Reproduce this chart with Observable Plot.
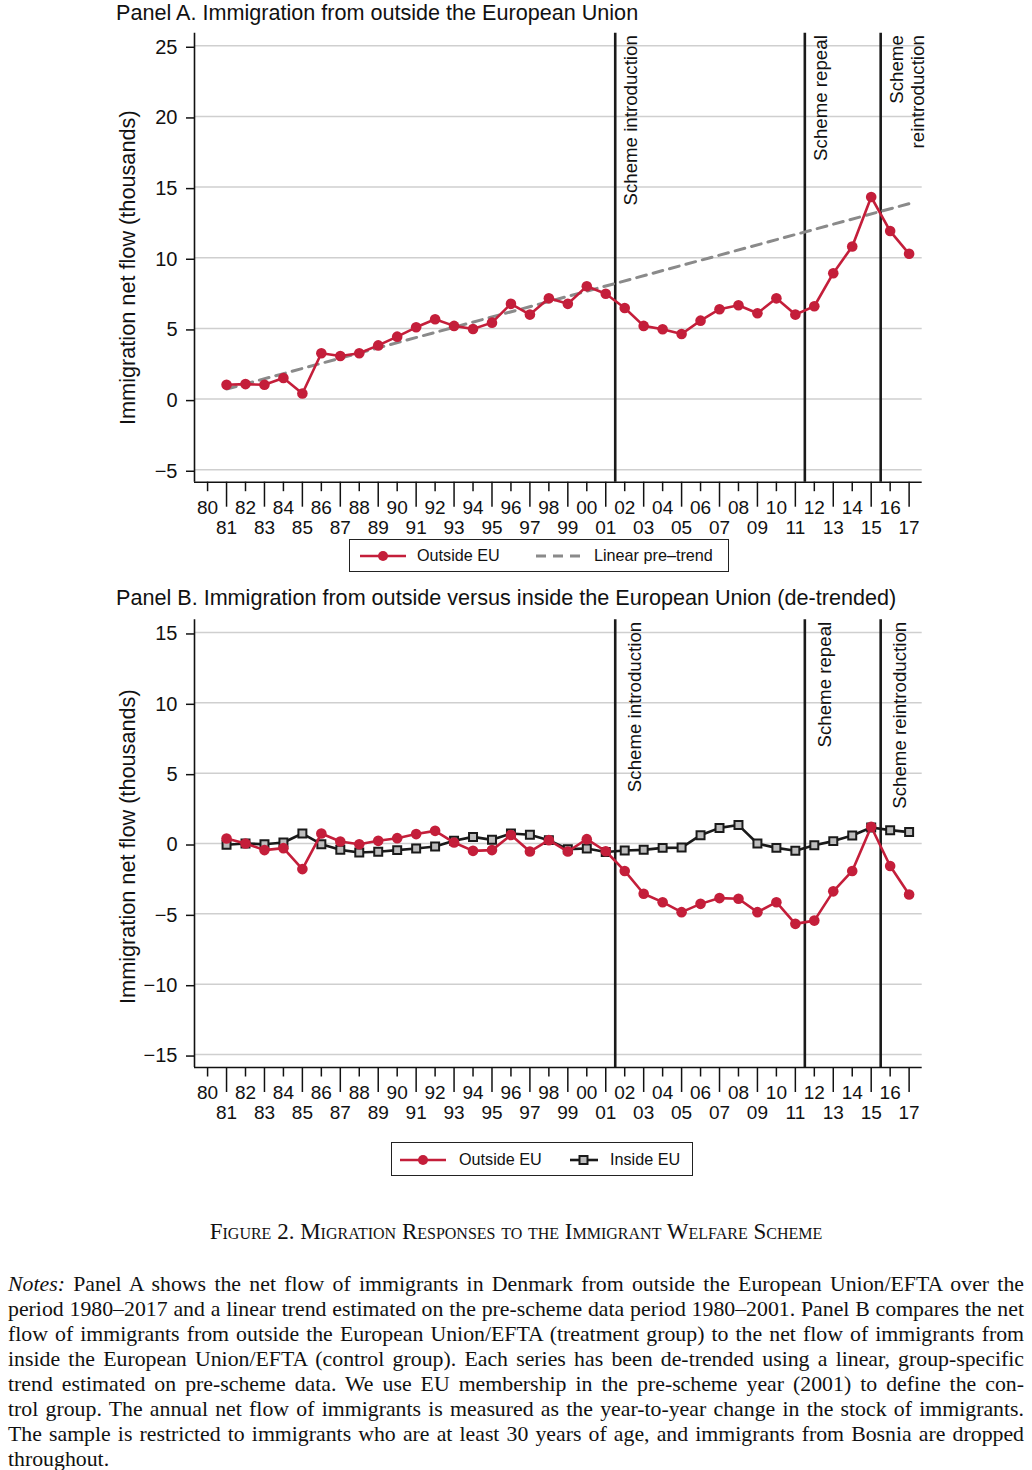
<!DOCTYPE html>
<html>
<head>
<meta charset="utf-8">
<script src="https://cdn.jsdelivr.net/npm/d3@7"></script>
<script src="https://cdn.jsdelivr.net/npm/@observablehq/plot@0.6"></script>
<style>
  body { margin: 0; background: #fff; }
  #page { position: relative; width: 1032px; height: 1470px; overflow: hidden; background: #fff;
          font-family: "Liberation Sans", Arial, Helvetica, sans-serif; color: #111; }
  .abs { position: absolute; }
  .ptitle { left: 116px; font-size: 21.6px; line-height: 24px; white-space: nowrap; }
  .legend { box-sizing: border-box; border: 1.5px solid #222; background: #fff; }
  .legend span { position: absolute; font-size: 16.2px; line-height: 20px; white-space: nowrap; }
  .legend svg { position: absolute; overflow: visible; }
  #caption { left: 0; width: 1032px; top: 1218px; text-align: center; font-family: "Liberation Serif", "Times New Roman", serif;
             font-size: 23px; line-height: 28px; font-variant: small-caps; white-space: nowrap; }
  #notes { left: 8px; width: 1016px; top: 1272px; font-family: "Liberation Serif", "Times New Roman", serif;
           font-size: 20px; line-height: 25px; color: #111; }
  #notes .ln { display: block; text-align: justify; text-align-last: justify; white-space: nowrap; }
  #notes .last { text-align: left; text-align-last: left; }
</style>
</head>
<body>
<div id="page">
  <div class="abs ptitle" style="top:1px">Panel A. Immigration from outside the European Union</div>
  <div class="abs" id="chartA" style="left:0; top:26px;"></div>
  <div class="abs legend" style="left:349px; top:539px; width:380px; height:33px;">
    <svg style="left:10px; top:15px;" width="46" height="2"><line x1="0" y1="1" x2="46" y2="1" stroke="#c41e3a" stroke-width="2.6"/><circle cx="23" cy="1" r="5" fill="#c41e3a"/></svg>
    <span style="left:67px; top:5px;">Outside EU</span>
    <svg style="left:186px; top:15px;" width="46" height="2"><line x1="0" y1="1" x2="46" y2="1" stroke="#8a8a8a" stroke-width="3" stroke-dasharray="10,7"/></svg>
    <span style="left:244px; top:5px;">Linear pre–trend</span>
  </div>

  <div class="abs ptitle" style="top:586px">Panel B. Immigration from outside versus inside the European Union (de-trended)</div>
  <div class="abs" id="chartB" style="left:0; top:611px;"></div>
  <div class="abs legend" style="left:391px; top:1142px; width:302px; height:34px;">
    <svg style="left:8px; top:16px;" width="46" height="2"><line x1="0" y1="1" x2="46" y2="1" stroke="#c41e3a" stroke-width="2.6"/><circle cx="23" cy="1" r="5" fill="#c41e3a"/></svg>
    <span style="left:67px; top:6px;">Outside EU</span>
    <svg style="left:178px; top:16px;" width="28" height="2"><line x1="0" y1="1" x2="28" y2="1" stroke="#1a1a1a" stroke-width="2.6"/><rect x="9.5" y="-3" width="8" height="8" fill="#bdbdbd" stroke="#1a1a1a" stroke-width="2"/></svg>
    <span style="left:218px; top:6px;">Inside EU</span>
  </div>

  <div class="abs" id="caption">Figure 2. Migration Responses to the Immigrant Welfare Scheme</div>
  <div class="abs" id="notes">
    <span class="ln"><i>Notes:</i> Panel A shows the net flow of immigrants in Denmark from outside the European Union/EFTA over the</span>
    <span class="ln">period 1980–2017 and a linear trend estimated on the pre-scheme data period 1980–2001. Panel B compares the net</span>
    <span class="ln">flow of immigrants from outside the European Union/EFTA (treatment group) to the net flow of immigrants from</span>
    <span class="ln">inside the European Union/EFTA (control group). Each series has been de-trended using a linear, group-specific</span>
    <span class="ln">trend estimated on pre-scheme data. We use EU membership in the pre-scheme year (2001) to define the con-</span>
    <span class="ln">trol group. The annual net flow of immigrants is measured as the year-to-year change in the stock of immigrants.</span>
    <span class="ln">The sample is restricted to immigrants who are at least 30 years of age, and immigrants from Bosnia are dropped</span>
    <span class="ln last">throughout.</span>
  </div>
</div>

<script>
// ---------------- DATA ----------------
const years = [1981,1982,1983,1984,1985,1986,1987,1988,1989,1990,1991,1992,1993,1994,1995,1996,1997,1998,1999,2000,
               2001,2002,2003,2004,2005,2006,2007,2008,2009,2010,2011,2012,2013,2014,2015,2016,2017];

// Panel A: net flow from outside EU (thousands)
const outsideA = [1.01,1.06,1.01,1.49,0.40,3.24,3.05,3.24,3.80,4.42,5.08,5.65,5.18,4.96,5.41,6.74,5.98,7.13,6.74,7.99,
                  7.45,6.45,5.18,4.94,4.61,5.55,6.36,6.64,6.07,7.13,5.98,6.57,8.91,10.80,14.30,11.89,10.28];
// Linear pre-trend (end points)
const trendYears = [1981, 2017];
const trendValues = [0.71, 13.83];

// Panel B: de-trended series
const outsideB = [0.36,0.00,-0.47,-0.33,-1.82,0.71,0.14,-0.05,0.19,0.38,0.67,0.90,0.07,-0.52,-0.47,0.60,-0.57,0.24,-0.57,0.31,
                  -0.55,-1.95,-3.57,-4.17,-4.88,-4.29,-3.88,-3.93,-4.88,-4.17,-5.71,-5.48,-3.40,-1.95,1.19,-1.60,-3.62];
const insideB  = [-0.09,0.00,-0.05,0.07,0.71,-0.05,-0.45,-0.64,-0.59,-0.47,-0.36,-0.21,0.19,0.47,0.26,0.71,0.62,0.24,-0.40,-0.36,
                  -0.60,-0.50,-0.45,-0.31,-0.29,0.59,1.11,1.31,0.00,-0.31,-0.52,-0.12,0.17,0.57,1.14,0.95,0.81];

// Scheme events
const eventYears = [2001.5, 2011.5, 2015.5];
const eventLabelsA = ["Scheme introduction", "Scheme repeal", "Scheme\nreintroduction"];
const eventLabelsB = ["Scheme introduction", "Scheme repeal", "Scheme reintroduction"];

// Tick values
const evenTicks = [1980,1982,1984,1986,1988,1990,1992,1994,1996,1998,2000,2002,2004,2006,2008,2010,2012,2014,2016];
const oddTicks  = [1981,1983,1985,1987,1989,1991,1993,1995,1997,1999,2001,2003,2005,2007,2009,2011,2013,2015,2017];
const yTicksA = [-5,0,5,10,15,20,25];
const yTicksB = [-15,-10,-5,0,5,10,15];
const yTitle = "Immigration net flow (thousands)";

// ---------------- CHARTS ----------------
const RED = "#c41e3a";
const FONT = "'Liberation Sans', Arial, Helvetica, sans-serif";
const xDomain = [1979.31, 2017.69];
const fmt = (y) => String(y % 100).padStart(2, "0");

function commonAxes(yDomain, yTicks, titleDy) {
  const [y0, y1] = yDomain;
  return [
    Plot.axisY(yTicks, {tickSize: 8, tickPadding: 9, fontSize: 20, label: null, strokeWidth: 1.5, dy: 1.5}),
    Plot.axisX(evenTicks, {tickSize: 9.5, tickPadding: 8.7, fontSize: 19, tickFormat: fmt, label: null, strokeWidth: 1.5}),
    Plot.axisX(oddTicks, {tickSize: 25, tickPadding: 13.2, fontSize: 19, tickFormat: fmt, label: null, strokeWidth: 1.5}),
    Plot.ruleX([xDomain[0]], {y1: y0, y2: y1, stroke: "#111", strokeWidth: 1.6}),
    Plot.ruleY([y0], {x1: xDomain[0], x2: xDomain[1], stroke: "#111", strokeWidth: 1.6}),
    Plot.text([yTitle], {frameAnchor: "left", textAnchor: "middle", lineAnchor: "middle", rotate: -90,
                         dx: -66, dy: titleDy, fontSize: 21.7, fill: "#111"})
  ];
}

function eventMarks(yDomain, labels, dx) {
  const [y0, y1] = yDomain;
  const ev = eventYears.map((x, i) => ({x, label: labels[i]}));
  return [
    Plot.ruleX(ev, {x: "x", y1: y0, y2: y1, stroke: "#1a1a1a", strokeWidth: 2.6}),
    Plot.text(ev, {x: "x", y: y1, text: "label", rotate: -90, textAnchor: "end", lineAnchor: "top",
                   dx, dy: 2, fontSize: 18.7, lineHeight: 1.16, fill: "#111"})
  ];
}

// Panel A
const yDomainA = [-5.88, 25.89];
const dataA = years.map((year, i) => ({year, value: outsideA[i]}));
const trendA = trendYears.map((year, i) => ({year, value: trendValues[i]}));
const chartA = Plot.plot({
  width: 1032, height: 514,
  marginLeft: 194, marginRight: 110.3, marginTop: 6.7, marginBottom: 58.3,
  style: {fontFamily: FONT, background: "white", color: "#111"},
  x: {domain: xDomain},
  y: {domain: yDomainA},
  marks: [
    Plot.gridY(yTicksA, {stroke: "#cfcfcf", strokeOpacity: 1, strokeWidth: 1.5}),
    ...eventMarks(yDomainA, eventLabelsA, 6.5),
    Plot.line(trendA, {x: "year", y: "value", stroke: "#8a8a8a", strokeWidth: 3, strokeDasharray: "10,7"}),
    Plot.line(dataA, {x: "year", y: "value", stroke: RED, strokeWidth: 2.6}),
    Plot.dot(dataA, {x: "year", y: "value", r: 5.3, fill: RED}),
    ...commonAxes(yDomainA, yTicksA, 10)
  ]
});
document.getElementById("chartA").appendChild(chartA);

// Panel B
const yDomainB = [-15.92, 15.9];
const dataOut = years.map((year, i) => ({year, value: outsideB[i]}));
const dataIn = years.map((year, i) => ({year, value: insideB[i]}));
const chartB = Plot.plot({
  width: 1032, height: 524,
  marginLeft: 194, marginRight: 110.3, marginTop: 8.3, marginBottom: 68,
  style: {fontFamily: FONT, background: "white", color: "#111"},
  x: {domain: xDomain},
  y: {domain: yDomainB},
  marks: [
    Plot.gridY(yTicksB, {stroke: "#cfcfcf", strokeOpacity: 1, strokeWidth: 1.5}),
    ...eventMarks(yDomainB, eventLabelsB, 10.3),
    Plot.line(dataIn, {x: "year", y: "value", stroke: "#1a1a1a", strokeWidth: 2.6}),
    Plot.dot(dataIn, {x: "year", y: "value", symbol: "square", r: 4.5, fill: "#bdbdbd", stroke: "#1a1a1a", strokeWidth: 2}),
    Plot.line(dataOut, {x: "year", y: "value", stroke: RED, strokeWidth: 2.6}),
    Plot.dot(dataOut, {x: "year", y: "value", r: 5.3, fill: RED}),
    ...commonAxes(yDomainB, yTicksB, 3)
  ]
});
document.getElementById("chartB").appendChild(chartB);

// Fit the notes font so the longest full line just fills the 1016px measure (as in the typeset reference)
(function fitNotes() {
  const notes = document.getElementById("notes");
  const lines = Array.from(notes.querySelectorAll(".ln:not(.last)"));
  const probe = document.createElement("span");
  probe.style.cssText = "position:absolute;visibility:hidden;white-space:nowrap;font-family:'Liberation Serif','Times New Roman',serif;font-size:20px;";
  document.body.appendChild(probe);
  let maxW = 0;
  for (const ln of lines) { probe.innerHTML = ln.innerHTML; maxW = Math.max(maxW, probe.getBoundingClientRect().width); }
  probe.remove();
  if (maxW > 0) {
    const fs = Math.min(22, 20 * 1010 / maxW);
    notes.style.fontSize = fs.toFixed(2) + "px";
  }
})();
</script>
</body>
</html>
